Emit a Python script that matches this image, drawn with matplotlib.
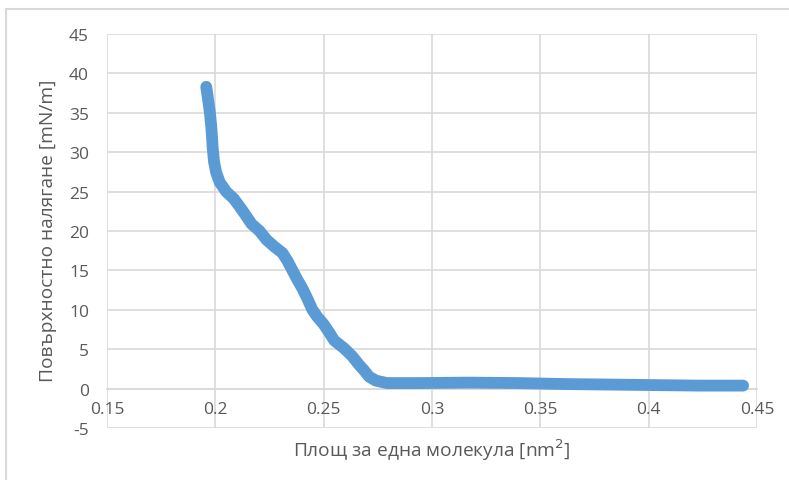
import matplotlib.pyplot as plt
from matplotlib.lines import Line2D

# Surface pressure isotherm: area per molecule (nm^2) vs surface pressure (mN/m)
area = [0.1958, 0.1966, 0.1975, 0.1982, 0.1988, 0.1994, 0.2004, 0.2020,
        0.2050, 0.2085, 0.2112, 0.2135, 0.2167, 0.2204, 0.2236, 0.2273,
        0.2310, 0.2333, 0.2356, 0.2379, 0.2402, 0.2425, 0.2448, 0.2471,
        0.2499, 0.2526, 0.2549, 0.2595, 0.2632, 0.2664, 0.2687, 0.2710,
        0.2742, 0.2793, 0.2940, 0.3170, 0.3400, 0.3630, 0.3860, 0.4040,
        0.4230, 0.4436]
pressure = [38.3, 36.8, 35.0, 33.0, 30.5, 28.8, 27.4, 26.2,
            25.0, 24.1, 23.1, 22.2, 20.9, 20.0, 18.9, 18.0,
            17.2, 16.2, 15.0, 13.8, 12.7, 11.4, 10.0, 9.1,
            8.2, 7.1, 6.1, 5.1, 4.1, 3.0, 2.3, 1.5,
            1.0, 0.7, 0.7, 0.76, 0.7, 0.57, 0.5, 0.44,
            0.38, 0.38]

x_ticks = [0.15, 0.2, 0.25, 0.3, 0.35, 0.4, 0.45]
x_labels = ["0.15", "0.2", "0.25", "0.3", "0.35", "0.4", "0.45"]
y_ticks = [-5, 0, 5, 10, 15, 20, 25, 30, 35, 40, 45]

BLUE = "#5B9BD5"
GRID = "#D9D9D9"
TEXT = "#595959"

plt.rcParams["font.family"] = ["Open Sans", "DejaVu Sans"]
plt.rcParams["axes.unicode_minus"] = False

fig = plt.figure(figsize=(7.89, 4.81), dpi=100)
ax = fig.add_axes([107 / 789, 1 - 429 / 481, 650 / 789, 394 / 481])

ax.plot(area, pressure, color=BLUE, linewidth=8.5, solid_capstyle="round",
        solid_joinstyle="round", zorder=3)

ax.set_xlim(0.15, 0.45)
ax.set_ylim(-5, 45)
ax.set_xticks(x_ticks)
ax.set_xticklabels(x_labels)
ax.set_yticks(y_ticks)
ax.grid(True, color=GRID, linewidth=1.2)
ax.set_axisbelow(True)

for side in ["top", "right", "left"]:
    ax.spines[side].set_visible(False)
ax.spines["bottom"].set_position(("data", 0))
ax.spines["bottom"].set_color(GRID)
ax.spines["bottom"].set_linewidth(1.2)

ax.tick_params(axis="x", length=0, pad=9, labelsize=12.5, labelcolor=TEXT)
ax.tick_params(axis="y", length=0, pad=13, labelsize=12.5, labelcolor=TEXT)

fig.text(432 / 789, 1 - 450 / 481, "Площ за една молекула [nm$^2$]",
         ha="center", va="center", fontsize=13.8, color=TEXT)
fig.text(48 / 789, 1 - 231 / 481, "Повърхностно налягане [mN/m]",
         ha="center", va="center", rotation=90, fontsize=13.8, color=TEXT)

# chart area frame (top and left edges)
fig.add_artist(Line2D([6 / 789, 1], [1 - 10 / 481, 1 - 10 / 481],
                      transform=fig.transFigure, color=GRID, linewidth=1.5))
fig.add_artist(Line2D([6 / 789, 6 / 789], [0, 1 - 10 / 481],
                      transform=fig.transFigure, color=GRID, linewidth=1.5))

fig.savefig("out.png", dpi=100)
